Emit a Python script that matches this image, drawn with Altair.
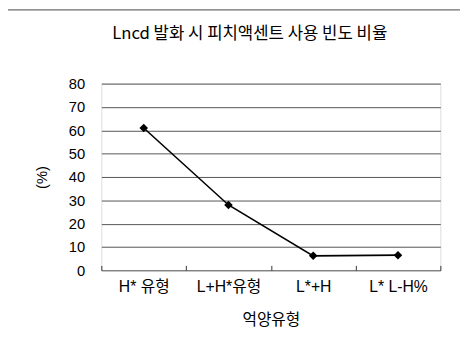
import altair as alt
import pandas as pd

categories = ["H* 유형", "L+H*유형", "L*+H", "L* L-H%"]
values = [61, 28, 6.2, 6.5]
title_text = ["Lncd 발화 시 피치액센트 사용 빈도 비율"]

df = pd.DataFrame({"유형": categories, "비율": values})
title_df = pd.DataFrame({"t": title_text})
frame_df = pd.DataFrame({"k": ["frame"]})

FONT_LATIN = "Liberation Sans, Noto Sans CJK KR"

yscale = alt.Scale(domain=[0, 80], nice=False)
xscale = alt.Scale(paddingInner=0, paddingOuter=0)

xaxis = alt.Axis(
    title="억양유형",
    labelAngle=0,
    bandPosition=0.5,
    tickBand="extent",
    ticks=True,
    tickSize=5,
    tickColor="#333",
    tickWidth=1,
    offset=-5,
    domain=False,
    grid=False,
    labelPadding=9,
    labelFontSize=16,
    labelFont=FONT_LATIN,
    labelColor="#000",
    labelOverlap=False,
    titleFontSize=16,
    titleFont="Noto Sans CJK KR",
    titleFontWeight="normal",
    titleColor="#000",
    titleY=55,
    titleBaseline="middle",
)

yaxis = alt.Axis(
    title="(%)",
    values=[0, 10, 20, 30, 40, 50, 60, 70, 80],
    ticks=False,
    domain=False,
    grid=True,
    gridColor="#555",
    gridWidth=1,
    labelOverlap=False,
    labelPadding=17,
    labelFontSize=15,
    labelFont=FONT_LATIN,
    labelColor="#000",
    titleFontSize=15,
    titleFont=FONT_LATIN,
    titleFontWeight="normal",
    titleColor="#000",
    titleX=-61,
    titleY=95,
    titleAngle=270,
    titleBaseline="middle",
)

line = alt.Chart(df).mark_line(color="black", strokeWidth=1.6).encode(
    x=alt.X("유형:N", sort=categories, scale=xscale, axis=xaxis),
    y=alt.Y("비율:Q", scale=yscale, axis=yaxis),
)

points = alt.Chart(df).mark_point(
    shape="diamond", filled=True, color="black", size=75, opacity=1
).encode(
    x=alt.X("유형:N", sort=categories, scale=xscale, axis=xaxis),
    y=alt.Y("비율:Q", scale=yscale, axis=yaxis),
)

# outer frame (top and left edges) drawn as one L-shaped symbol
frame = alt.Chart(frame_df).mark_point(
    shape="M1,-1L-1,-1L-1,1",
    filled=False,
    stroke="#444",
    strokeWidth=1,
    opacity=1,
    size=883600,
    clip=False,
).encode(x=alt.value(374), y=alt.value(395))

title = alt.Chart(title_df).mark_text(
    font="Noto Sans CJK KR", fontSize=17, color="#000", align="center", baseline="middle"
).encode(text="t:N", x=alt.value(151), y=alt.value(-50))

chart = (
    alt.layer(line, points, frame, title)
    .properties(
        width=345,
        height=190,
        autosize=alt.AutoSizeParams(type="none"),
        padding={"left": 95, "top": 74, "right": 20, "bottom": 70},
    )
    .configure_view(stroke="#777", strokeWidth=1)
    .configure(background="white")
)

chart.save("out.html", embed_options={"renderer": "svg", "actions": False})
